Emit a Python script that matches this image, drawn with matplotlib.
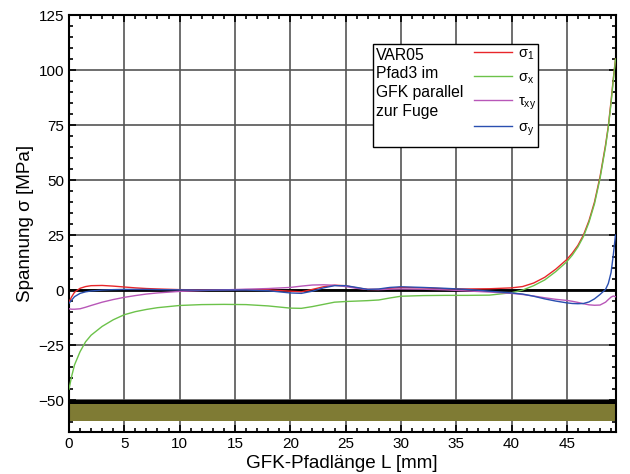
import matplotlib.pyplot as plt
from matplotlib.patches import Rectangle
from matplotlib.ticker import MultipleLocator

plt.rcParams["font.family"] = ["Liberation Sans", "DejaVu Sans"]

# %%
# Data (path length in mm, stresses in MPa)
L = [0, 0.25, 0.5, 1, 1.5, 2, 3, 4, 5, 6, 7, 8, 10, 12, 14, 16, 18, 20, 21,
     22, 23, 24, 25, 26, 27, 28, 29, 30, 32, 34, 36, 38, 40, 41, 42, 43, 44,
     45, 45.5, 46, 46.5, 47, 47.5, 48, 48.5, 48.75, 49, 49.2, 49.4]

sigma_1 = [-5.5, -3, -1, 0.8, 1.6, 2.0, 2.1, 1.8, 1.4, 1.0, 0.7, 0.5, 0.2,
           0.1, 0.1, 0.2, 0.1, -0.5, -0.8, 0.3, 1.5, 2.2, 2.0, 1.0, 0.3, 0.3,
           0.8, 1.2, 1.0, 0.6, 0.5, 0.6, 1.0, 1.6, 3.2, 5.8, 9.5, 13.9, 16.8,
           20.3, 25, 31.5, 40, 51.5, 66, 74.5, 86, 96, 105]

sigma_x = [-45, -39, -34, -28, -23.5, -20.5, -16.5, -13.5, -11.2, -9.8, -8.8,
           -8.0, -7.0, -6.6, -6.5, -6.6, -7.2, -8.2, -8.3, -7.5, -6.5, -5.5,
           -5.2, -5.0, -4.8, -4.5, -3.6, -2.8, -2.5, -2.4, -2.4, -2.3, -1.2,
           0.0, 2.0, 4.6, 8.4, 12.9, 15.9, 19.6, 24.3, 30.8, 39.2, 50.7, 65.2,
           74, 85, 95.5, 105]

tau_xy = [-8.5, -8.7, -8.7, -8.5, -7.8, -7.0, -5.5, -4.3, -3.3, -2.5, -1.8,
          -1.3, -0.6, -0.2, 0.1, 0.4, 0.7, 1.2, 1.8, 2.3, 2.4, 2.2, 1.6, 0.8,
          0.3, 0.2, 0.4, 0.5, 0.4, 0.1, -0.4, -0.9, -1.5, -2.0, -2.7, -3.5,
          -4.2, -4.7, -5.1, -5.6, -6.2, -6.7, -6.9, -6.8, -5.5, -4.3, -3.2,
          -2.7, -3.0]

sigma_y = [-6, -4.5, -3, -1.5, -0.8, -0.4, 0, 0.2, 0.3, 0.3, 0.3, 0.2, 0.1,
           0, 0, 0, -0.3, -1.3, -1.5, -0.5, 1.0, 2.0, 2.0, 1.2, 0.3, 0.5, 1.2,
           1.5, 1.2, 0.8, 0.3, -0.5, -1.3, -1.8, -2.8, -4.0, -5.0, -5.8, -6.1,
           -6.2, -6.1, -5.4, -4.0, -2.0, 0.3, 3, 8, 16, 25]

series = [sigma_1, sigma_x, tau_xy, sigma_y]
labels = ["σ$_\\mathregular{1}$", "σ$_\\mathregular{x}$",
          "τ$_\\mathregular{xy}$", "σ$_\\mathregular{y}$"]
colors = ["#e8262a", "#6cc24a", "#b857b8", "#2a4fb0"]

# joint bands at the bottom of the plot [MPa]
joint_line = (-52, -50)
joint_band = (-59.5, -52)

# %%
# Plot
fig = plt.figure(figsize=(6.3, 4.74), dpi=100)
ax = fig.add_axes([0.1095, 0.0886, 0.8675, 0.8797])

handles = []
for values, color, label in zip(series, colors, labels):
    (h,) = ax.plot(L, values, color=color, lw=1.0, label=label, zorder=3)
    handles.append(h)

ax.axhline(0, color="k", lw=2.0, zorder=2)
ax.axhspan(*joint_line, color="k", lw=0, zorder=2)
ax.axhspan(*joint_band, color="#7f7b34", lw=0, zorder=2)

ax.set_xlim(0, 49.4)
ax.set_ylim(-64.5, 125)
ax.xaxis.set_major_locator(MultipleLocator(5))
ax.xaxis.set_minor_locator(MultipleLocator(1))
ax.yaxis.set_major_locator(MultipleLocator(25))
ax.yaxis.set_minor_locator(MultipleLocator(5))
ax.tick_params(which="both", direction="in", top=True, right=True,
               labelsize=11, width=1.2)
ax.tick_params(which="major", length=5)
ax.tick_params(which="minor", length=3)
ax.grid(which="major", color="#555555", lw=1.2, zorder=1)
for spine in ax.spines.values():
    spine.set_linewidth(1.5)

ax.set_xlabel("GFK-Pfadlänge L [mm]", fontsize=13.6, labelpad=3)
ax.set_ylabel("Spannung σ [MPa]", fontsize=13.6, labelpad=3)

# .. legend box with the case description on the left
ax.add_patch(Rectangle((0.556, 0.683), 0.303, 0.247, transform=ax.transAxes,
                       facecolor="white", edgecolor="k", lw=1.0, zorder=4))
ax.text(0.561, 0.922, "VAR05\nPfad3 im\nGFK parallel\nzur Fuge",
        transform=ax.transAxes, va="top", ha="left", fontsize=11.3,
        linespacing=1.32, zorder=5)
leg = ax.legend(handles=handles, loc="upper left",
                bbox_to_anchor=(0.717, 0.957), frameon=False, fontsize=10.5,
                handlelength=2.6, handletextpad=0.4, labelspacing=0.58)
leg.set_zorder(5)

fig.savefig("out.png", dpi=100)
